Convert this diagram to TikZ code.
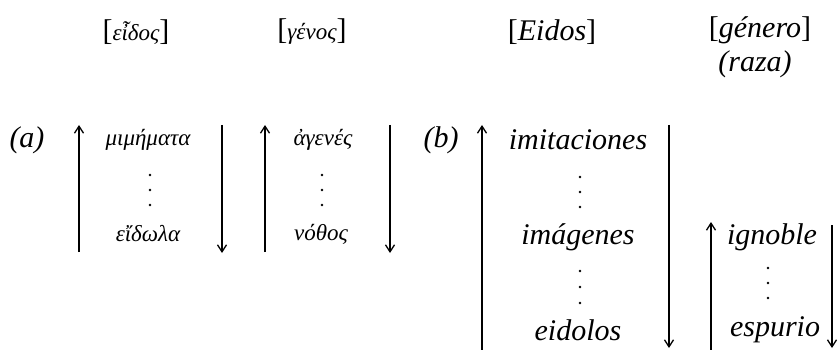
\documentclass[tikz,border=0pt]{standalone}
\usepackage{fontspec}
\setmainfont{Liberation Serif}
\usepackage{tikz}
\usetikzlibrary{arrows.meta,positioning}

\newcommand{\bigbrk}[1]{{\fontsize{30}{36}\selectfont\upshape#1}}

\tikzset{
  latin/.style={font=\fontsize{30}{36}\selectfont\itshape,inner sep=0pt},
  greek/.style={font=\fontsize{23}{28}\selectfont\itshape,inner sep=0pt},
  scalearrow/.style={line width=1.3pt,-{Straight Barb[length=7pt,width=9pt]}},
  dot/.style={circle,fill=black,inner sep=0pt,minimum size=2.6pt},
}

\begin{document}
\begin{tikzpicture}[x=1pt,y=-1pt]
\useasboundingbox (0,0) rectangle (840,350);

% headers
\node[greek] (hEidosG) at (136,32) {\bigbrk{[}εἶδος\bigbrk{]}};
\node[greek] (hGenosG) at (312,32) {\bigbrk{[}γένος\bigbrk{]}};
\node[latin] (hEidos) at (552,32) {\bigbrk{[}Eidos\bigbrk{]}};
\node[latin] (hGenero) at (760,30) {\bigbrk{[}género\bigbrk{]}};
\node[latin] (hRaza) at (755,64) {(raza)};

% (a) greek columns
\node[latin] (labA) at (27,140) {(a)};
\node[greek] (mimemata) at (148,140) {μιμήματα};
\node[greek] (eidola) at (148,234) {εἴδωλα};
\node[greek] (agenes) at (323,140) {ἀγενές};
\node[greek] (nothos) at (321,234) {νόθος};
\foreach \y in {175,190,205} {
  \node[dot] (dotA\y) at (150,\y) {};
  \node[dot] (dotG\y) at (322,\y) {};
}

% (b) spanish columns
\node[latin] (labB) at (441,140) {(b)};
\node[latin] (imitaciones) at (578,140) {imitaciones};
\node[latin] (imagenes) at (578,237) {imágenes};
\node[latin] (eidolos) at (578,330) {eidolos};
\node[latin] (ignoble) at (772,237) {ignoble};
\node[latin] (espurio) at (775,330) {espurio};
\foreach \y in {177,192,207} \node[dot] (dotB\y) at (580,\y) {};
\foreach \y in {271,287,303} \node[dot] (dotC\y) at (580,\y) {};
\foreach \y in {268,283,298} \node[dot] (dotR\y) at (768,\y) {};

% arrow ends
\coordinate (aUpS) at (79,252);   \coordinate (aUpE) at (79,125);
\coordinate (aDnS) at (222,125);  \coordinate (aDnE) at (222,253);
\coordinate (gUpS) at (265,252);  \coordinate (gUpE) at (265,125);
\coordinate (gDnS) at (390,125);  \coordinate (gDnE) at (390,253);
\coordinate (bUpS) at (482,350);  \coordinate (bUpE) at (482,125);
\coordinate (bDnS) at (669,125);  \coordinate (bDnE) at (669,348);
\coordinate (rUpS) at (711,350);  \coordinate (rUpE) at (711,222);
\coordinate (rDnS) at (832,225);  \coordinate (rDnE) at (832,348);

\draw[scalearrow] (aUpS) -- (aUpE);
\draw[scalearrow] (aDnS) -- (aDnE);
\draw[scalearrow] (gUpS) -- (gUpE);
\draw[scalearrow] (gDnS) -- (gDnE);
\draw[scalearrow] (bUpS) -- (bUpE);
\draw[scalearrow] (bDnS) -- (bDnE);
\draw[scalearrow] (rUpS) -- (rUpE);
\draw[scalearrow] (rDnS) -- (rDnE);
\end{tikzpicture}
\end{document}
